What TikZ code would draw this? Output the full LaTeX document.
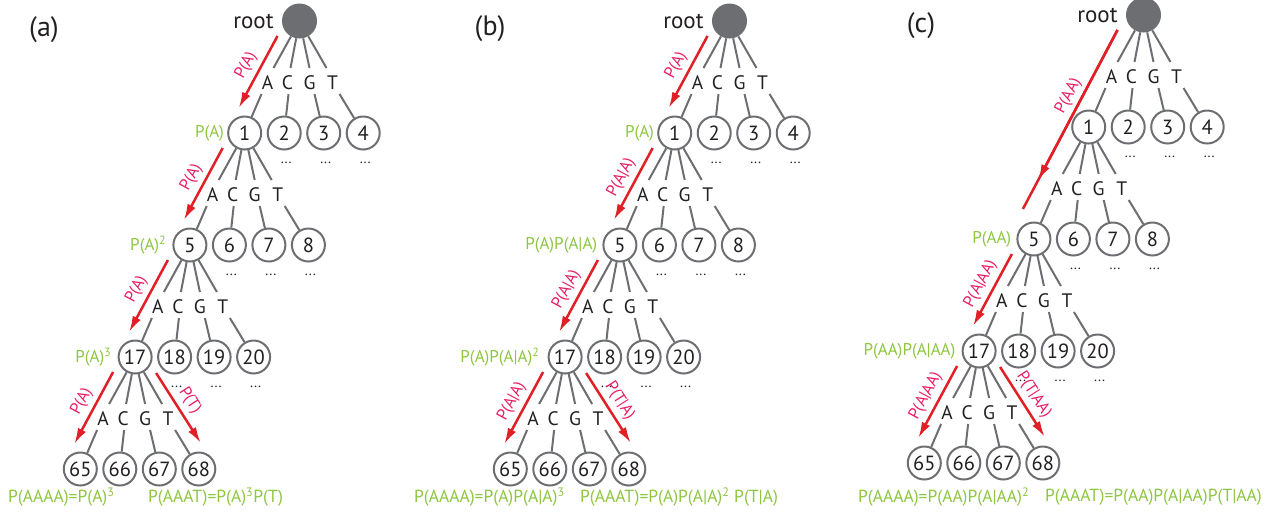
\documentclass[tikz,border=0pt]{standalone}
\usepackage{fontspec}
\setmainfont{PT Sans}
\usetikzlibrary{calc,arrows.meta}
\definecolor{lgray}{RGB}{109,110,113}
\definecolor{txt}{RGB}{35,31,32}
\definecolor{arrred}{RGB}{224,32,38}
\definecolor{labpink}{RGB}{232,30,100}
\definecolor{lgreen}{RGB}{141,198,63}
\tikzset{
 num/.style={circle, draw=lgray, line width=2pt, minimum size=33pt, inner sep=0pt, text=txt, font=\fontsize{20.5}{20.5}\selectfont},
 rootc/.style={circle, fill=lgray, minimum size=35pt, inner sep=0pt},
 lett/.style={text=txt, font=\fontsize{19.5}{19.5}\selectfont, inner sep=0pt},
 edge/.style={draw=lgray, line width=2pt},
 redline/.style={draw=arrred, line width=2.5pt},
 redarr/.style={draw=arrred, line width=2.5pt, -{Latex[length=16pt,width=9pt]}},
 rlab/.style={text=labpink, font=\fontsize{16.5}{16.5}\selectfont, sloped, above=4.5pt, inner sep=0pt},
 glab/.style={text=lgreen, font=\fontsize{17}{17}\selectfont, inner sep=0pt, anchor=east},
 blab/.style={text=lgreen, font=\fontsize{17.5}{17.5}\selectfont, inner sep=0pt, anchor=west},
 dotsn/.style={text=txt, font=\fontsize{14}{14}\selectfont, inner sep=0pt},
 ttl/.style={text=txt, font=\fontsize{28}{28}\selectfont, inner sep=0pt},
 rootlab/.style={text=txt, font=\fontsize{23}{23}\selectfont, inner sep=0pt, anchor=east},
}
\newcommand\mylevel[6]{%
  \node[lett] (#1#2A) at ($(#1#2)+(-32,62)$) {A};
  \node[lett] (#1#2C) at ($(#1#2)+(-12,62)$) {C};
  \node[lett] (#1#2G) at ($(#1#2)+(10,62)$) {G};
  \node[lett] (#1#2T) at ($(#1#2)+(33,62)$) {T};
  \node[num] (#1#3) at ($(#1#2)+(-54.8,112)$) {#3};
  \node[num] (#1#4) at ($(#1#3)+(39.5,0)$) {#4};
  \node[num] (#1#5) at ($(#1#4)+(39.5,0)$) {#5};
  \node[num] (#1#6) at ($(#1#5)+(39.5,0)$) {#6};
  \draw[edge] (#1#2) -- ($(#1#2A)+(6,-15)$);
  \draw[edge] (#1#2) -- ($(#1#2C)+(3,-15)$);
  \draw[edge] (#1#2) -- ($(#1#2G)+(0,-15)$);
  \draw[edge] (#1#2) -- ($(#1#2T)+(-6,-15)$);
  \draw[edge] ($(#1#2A)+(-6,11)$) -- (#1#3);
  \draw[edge] ($(#1#2C)+(1,11)$) -- (#1#4);
  \draw[edge] ($(#1#2G)+(5,11)$) -- (#1#5);
  \draw[edge] ($(#1#2T)+(7,11)$) -- (#1#6);
}
\newcommand\mydots[4]{%
  \node[dotsn] (#1#2d) at ($(#1#2)+(2,30)$) {...};
  \node[dotsn] (#1#3d) at ($(#1#3)+(2,30)$) {...};
  \node[dotsn] (#1#4d) at ($(#1#4)+(2,30)$) {...};
}
\newcommand\myarrL[4]{%
  \draw[redarr] ($(#1#2)+(-22,15)$) -- ($(#1#3)+(-6,-25)$) node[rlab, midway] {#4};
}
\newcommand\myarrR[4]{%
  \draw[redarr] ($(#1#2)+(21,16)$) -- ($(#1#3)+(2,-26)$) node[rlab, midway] {#4};
}
\newcommand\mytree[1]{%
  \node[rootlab] (#1rootl) at ($(#1root.west)+(-8,0)$) {root};
  \mylevel{#1}{root}{1}{2}{3}{4}
  \mylevel{#1}{1}{5}{6}{7}{8}
  \mylevel{#1}{5}{17}{18}{19}{20}
  \mylevel{#1}{17}{65}{66}{67}{68}
  \mydots{#1}{2}{3}{4}
  \mydots{#1}{6}{7}{8}
  \mydots{#1}{18}{19}{20}
}
\begin{document}
\begin{tikzpicture}[x=1pt,y=-1pt]
\useasboundingbox (0,0) rectangle (1279,515);
% titles
\node[ttl] (ta) at (44,30) {(a)};
\node[ttl] (tb) at (490,29) {(b)};
\node[ttl] (tc) at (921,26) {(c)};
% roots
\node[rootc] (aroot) at (299.5,21) {};
\node[rootc] (broot) at (729.5,21) {};
\node[rootc] (croot) at (1143.5,15) {};
\mytree{a}
\mytree{b}
\mytree{c}
% green level labels
\node[glab] (ag1) at ($(a1.west)+(-3,0)$) {P(A)};
\node[glab] (ag5) at ($(a5.west)+(-6,0)$) {P(A)\textsuperscript{2}};
\node[glab] (ag17) at ($(a17.west)+(-6,0)$) {P(A)\textsuperscript{3}};
\node[glab] (bg1) at ($(b1.west)+(-3,0)$) {P(A)};
\node[glab] (bg5) at ($(b5.west)+(-5,0)$) {P(A)P(A|A)};
\node[glab] (bg17) at ($(b17.west)+(-8,0)$) {P(A)P(A|A)\textsuperscript{2}};
\node[glab] (cg5) at ($(c5.west)+(-5,0)$) {P(AA)};
\node[glab] (cg17) at ($(c17.west)+(-6,0)$) {P(AA)P(A|AA)};
% red arrows (a)
\myarrL{a}{root}{1}{P(A)}
\myarrL{a}{1}{5}{P(A)}
\myarrL{a}{5}{17}{P(A)}
\myarrL{a}{17}{65}{P(A)}
\myarrR{a}{17}{68}{P(T)}
% red arrows (b)
\myarrL{b}{root}{1}{P(A)}
\myarrL{b}{1}{5}{P(A|A)}
\myarrL{b}{5}{17}{P(A|A)}
\myarrL{b}{17}{65}{P(A|A)}
\myarrR{b}{17}{68}{P(T|A)}
% red arrows (c)
\coordinate (cas) at ($(croot)+(-26,15)$);
\coordinate (cae) at ($(c5)+(-11,-30)$);
\draw[redline] (cas) -- (cae);
\draw[redarr] (cas) -- ($(cas)!0.84!(cae)$);
\path (cas) -- (cae) node[rlab, pos=0.4] {P(AA)};
\myarrL{c}{5}{17}{P(A|AA)}
\myarrL{c}{17}{65}{P(A|AA)}
\myarrR{c}{17}{68}{P(T|AA)}
% bottom formulas
\node[blab] (fa1) at (8,497) {P(AAAA)=P(A)\textsuperscript{3}};
\node[blab] (fa2) at (148,497) {P(AAAT)=P(A)\textsuperscript{3}P(T)};
\node[blab] (fb1) at (414,497) {P(AAAA)=P(A)P(A|A)\textsuperscript{3}};
\node[blab] (fb2) at (580,497) {P(AAAT)=P(A)P(A|A)\textsuperscript{2} P(T|A)};
\node[blab] (fc1) at (858,497) {P(AAAA)=P(AA)P(A|AA)\textsuperscript{2}};
\node[blab] (fc2) at (1045,497) {P(AAAT)=P(AA)P(A|AA)P(T|AA)};
\end{tikzpicture}
\end{document}
